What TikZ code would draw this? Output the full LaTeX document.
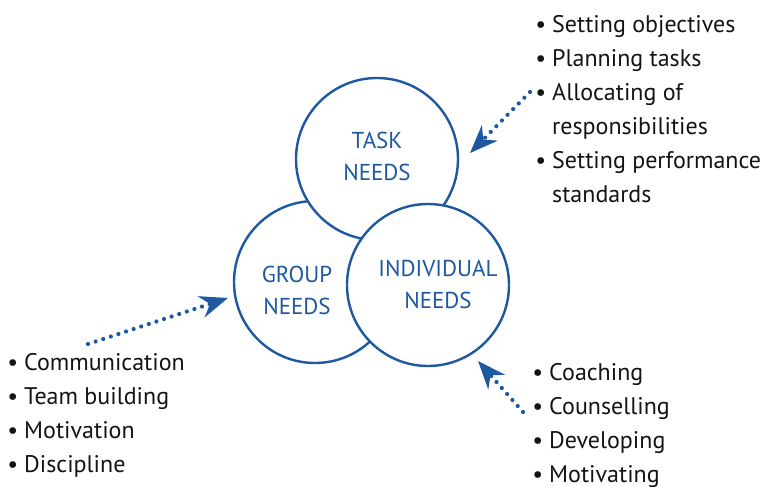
\documentclass[tikz,border=0pt]{standalone}
\usepackage{fontspec}
\setmainfont{PT Sans}
\usepackage{tikz}
\usetikzlibrary{arrows.meta}
\definecolor{needblue}{RGB}{30,88,158}
\definecolor{listink}{RGB}{20,20,20}

\tikzset{
	need/.style={circle,draw=needblue,line width=1.2pt,fill=white,minimum size=81pt,inner sep=0pt},
	needtext/.style={text=needblue,font=\fontsize{11.5}{16}\selectfont,align=center,inner sep=0pt},
	needlist/.style={anchor=north west,inner sep=0pt,align=left,text=listink,font=\fontsize{12}{17}\selectfont},
	pointer/.style={needblue,line width=2.1pt,line cap=round,dash pattern=on 0pt off 4pt,-{Stealth[length=14pt,width=11pt]}}
}
\newcommand{\bul}{\textbullet\hspace{3pt}}
\newcommand{\nobul}{\phantom{\textbullet\hspace{3pt}}}

\begin{document}
\begin{tikzpicture}[x=0.5pt,y=-0.5pt]
	\useasboundingbox (0,0) rectangle (768,487);
	\node[need] (group) at (315,282) {};
	\node[need] (task) at (377,159) {};
	\node[need] (indiv) at (428,285) {};
	\node[needtext] (tasklbl) at (377,156) {TASK\\NEEDS};
	\node[needtext] (grouplbl) at (297,290) {GROUP\\NEEDS};
	\node[needtext] (indivlbl) at (438,284) {INDIVIDUAL\\NEEDS};
	\node[needlist] (tasklist) at (535,15) {\bul Setting objectives\\ \bul Planning tasks\\ \bul Allocating of\\ \nobul responsibilities\\ \bul Setting performance\\ \nobul standards};
	\node[needlist] (grouplist) at (7,353) {\bul Communication\\ \bul Team building\\ \bul Motivation\\ \bul Discipline};
	\node[needlist] (indivlist) at (532,363) {\bul Coaching\\ \bul Counselling\\ \bul Developing\\ \bul Motivating};
	\coordinate (taskfrom) at (530,92);
	\coordinate (taskto) at (470,153);
	\coordinate (groupfrom) at (88,344);
	\coordinate (groupto) at (228,298);
	\coordinate (indivfrom) at (523,412);
	\coordinate (indivto) at (478,361);
	\draw[pointer] (taskfrom) -- (taskto);
	\draw[pointer] (groupfrom) -- (groupto);
	\draw[pointer] (indivfrom) -- (indivto);
\end{tikzpicture}
\end{document}
